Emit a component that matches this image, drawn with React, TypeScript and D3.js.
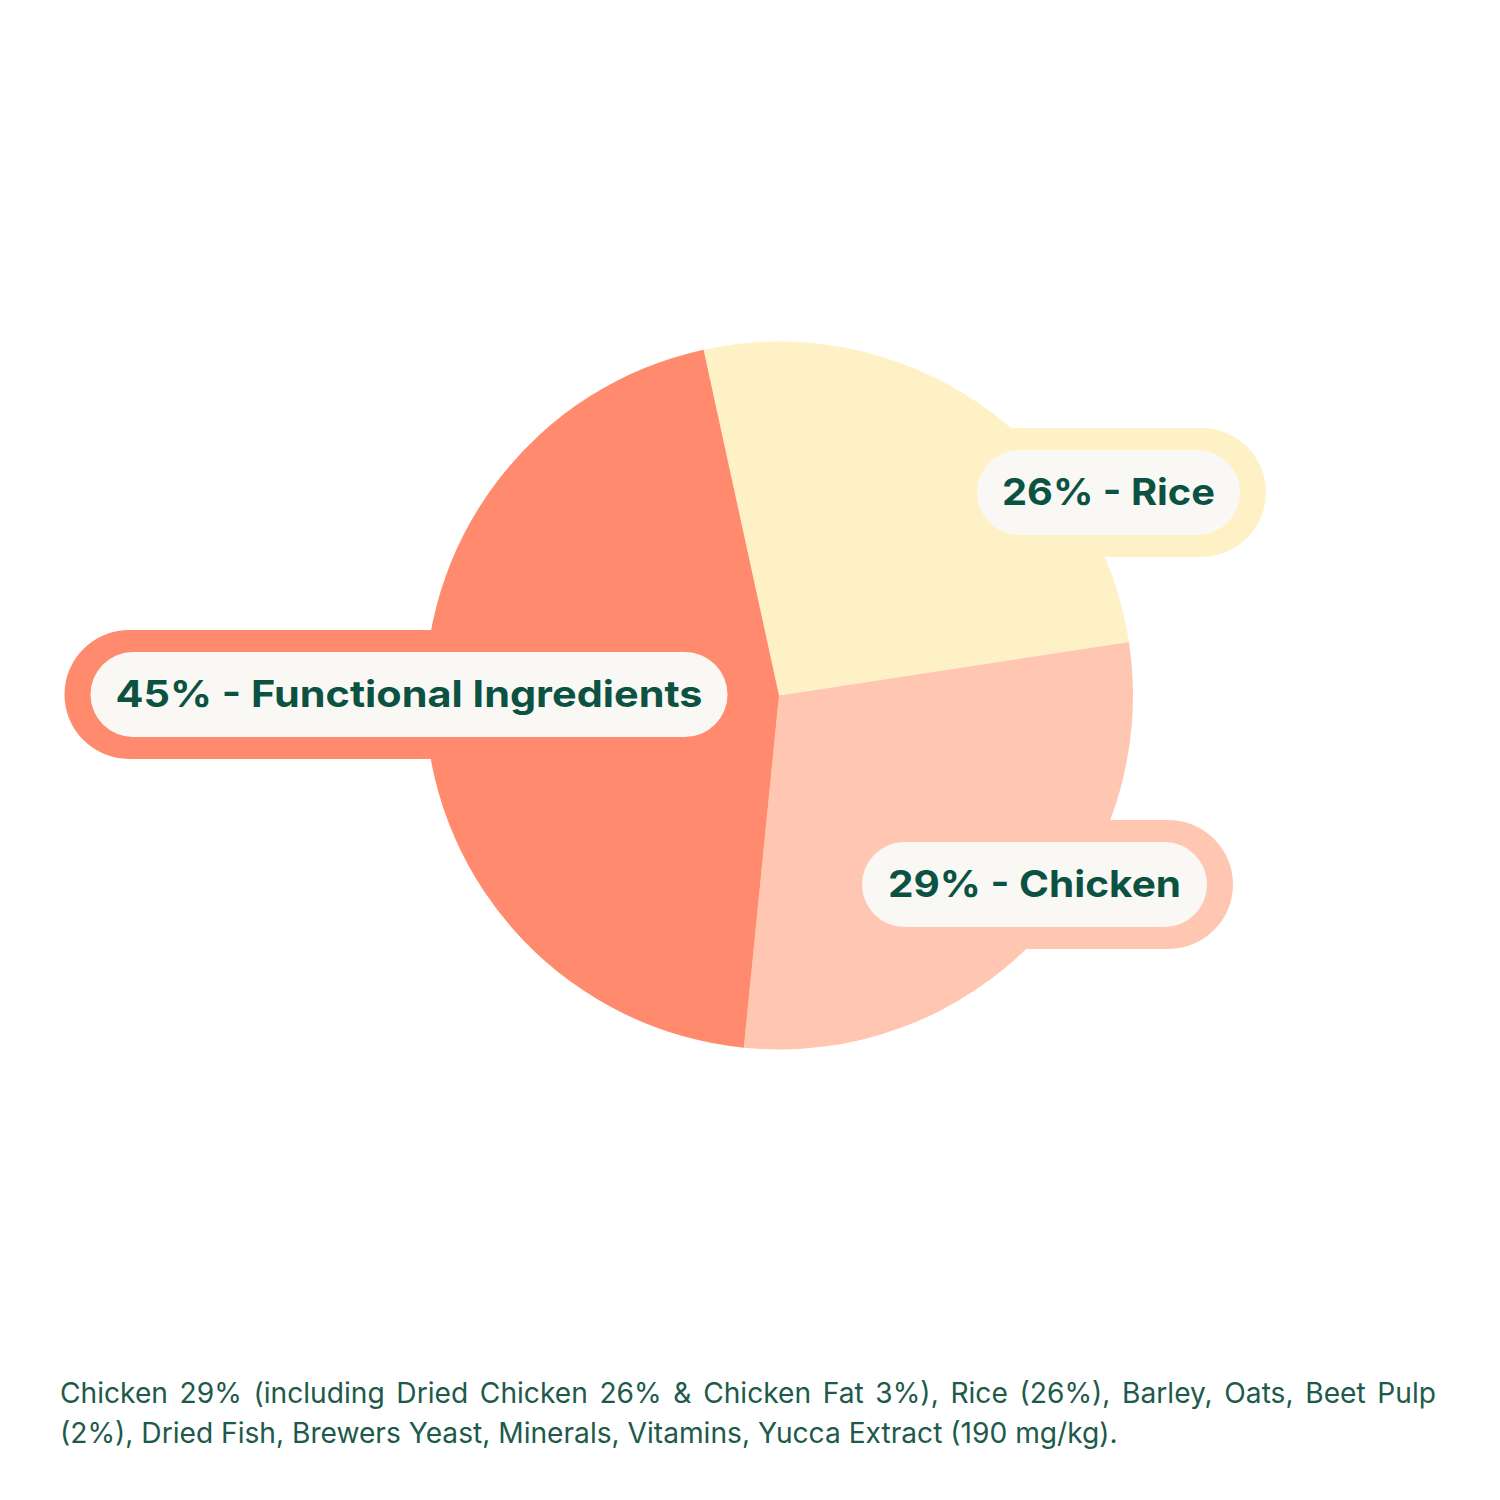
import React, { useMemo } from "react";
import * as d3 from "d3";

// Ingredient split shown in the pie
const categories = ["Rice", "Chicken", "Functional Ingredients"];
const shares = [26, 29, 45];
const sliceColors = ["#FFF1C6", "#FFC7B2", "#FF8A6D"];

// Ingredient statement under the chart (first line is justified)
const footnoteLines = [
  "Chicken 29% (including Dried Chicken 26% & Chicken Fat 3%), Rice (26%), Barley, Oats, Beet Pulp",
  "(2%), Dried Fish, Brewers Yeast, Minerals, Vitamins, Yucca Extract (190 mg/kg).",
];

const W = 1500;
const H = 1500;
const CX = 779;
const CY = 695.5;
const R = 354;
const START_DEG = -12.3;

// Pill placement for each label, relative to the pie centre
const labelLayout = [
  { dx: 329.5, dy: -203, w: 263, textW: 213 },
  { dx: 255.5, dy: 189, w: 345, textW: 293 },
  { dx: -370, dy: -1, w: 637, textW: 587 },
];

const PILL_H = 85;
const PAD_X = 26;
const PAD_Y = 22;
const TEXT_COLOR = "#0C5242";
const NOTE_COLOR = "#1D5A4B";
const NOTE_FAMILY = "Inter";

function measure(text: string, font: string): number {
  const c = document.createElement("canvas");
  const ctx = c.getContext("2d")!;
  ctx.font = font;
  return ctx.measureText(text).width;
}

export default function App() {
  const arcs = useMemo(() => {
    const start = (START_DEG * Math.PI) / 180;
    return d3
      .pie<number>()
      .sort(null)
      .startAngle(start)
      .endAngle(start + 2 * Math.PI)(shares);
  }, []);

  const arcGen = d3
    .arc<d3.PieArcDatum<number>>()
    .innerRadius(0)
    .outerRadius(R);

  // Size the note so the closing line runs to its natural width
  const noteLeft = 60;
  const noteRight = 1436;
  const line2Width = 1058;
  const baseW = measure(footnoteLines[1], `27px ${NOTE_FAMILY}`);
  const noteSize = Math.max(24, Math.min(30, (27 * line2Width) / baseW));
  const noteFont = `${noteSize}px ${NOTE_FAMILY}`;

  // Justify the first footnote line across the text column
  const words = footnoteLines[0].split(" ");
  const widths = words.map((w) => measure(w, noteFont));
  const total = widths.reduce((a, b) => a + b, 0);
  const gap = (noteRight - noteLeft - total) / (words.length - 1);
  const wordX: number[] = [];
  let acc = noteLeft;
  widths.forEach((w) => {
    wordX.push(acc);
    acc += w + gap;
  });

  return (
    <svg
      width={W}
      height={H}
      viewBox={`0 0 ${W} ${H}`}
      style={{ display: "block", position: "absolute", left: 0, top: 0, background: "#FFFFFF" }}
    >
      <rect x={0} y={0} width={W} height={H} fill="#FFFFFF" />
      <g transform={`translate(${CX},${CY})`}>
        {arcs.map((a, i) => (
          <path key={categories[i]} d={arcGen(a) || ""} fill={sliceColors[i]} />
        ))}
        {arcs.map((a, i) => {
          const L = labelLayout[i];
          const ow = L.w + PAD_X * 2;
          const oh = PILL_H + PAD_Y * 2;
          return (
            <rect
              key={"o" + i}
              x={L.dx - ow / 2}
              y={L.dy - oh / 2}
              width={ow}
              height={oh}
              rx={oh / 2}
              fill={sliceColors[i]}
            />
          );
        })}
        {arcs.map((a, i) => {
          const L = labelLayout[i];
          return (
            <g key={"l" + i}>
              <rect
                x={L.dx - L.w / 2}
                y={L.dy - PILL_H / 2}
                width={L.w}
                height={PILL_H}
                rx={PILL_H / 2}
                fill="#FAF8F5"
              />
              <text
                x={L.dx}
                y={L.dy + 12}
                textAnchor="middle"
                fontFamily="Inter, 'Open Sans', sans-serif"
                fontWeight={700}
                fontSize={37}
                fill={TEXT_COLOR}
                textLength={L.textW}
                lengthAdjust="spacingAndGlyphs"
              >
                {`${shares[i]}% - ${categories[i]}`}
              </text>
            </g>
          );
        })}
      </g>
      <text fontFamily={NOTE_FAMILY} fontSize={noteSize} fill={NOTE_COLOR} y={1403}>
        {words.map((w, i) => (
          <tspan key={i} x={wordX[i]}>
            {w}
          </tspan>
        ))}
      </text>
      <text
        x={noteLeft}
        y={1443}
        fontFamily={NOTE_FAMILY}
        fontSize={noteSize}
        fill={NOTE_COLOR}
      >
        {footnoteLines[1]}
      </text>
    </svg>
  );
}
